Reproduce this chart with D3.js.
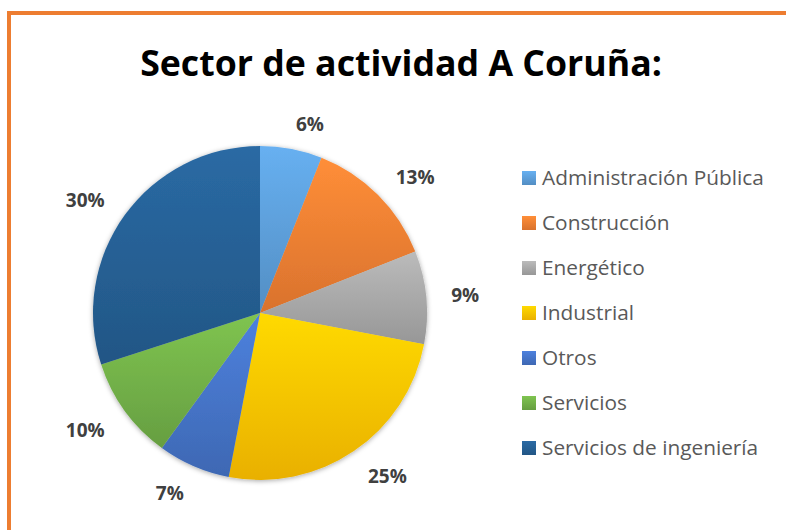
<!DOCTYPE html>
<html>
<head>
<meta charset="utf-8">
<script src="https://cdn.jsdelivr.net/npm/d3@7"></script>
<style>
  body { margin: 0; background: #fff; }
  text { font-family: "Open Sans", "Noto Sans", sans-serif; }
</style>
</head>
<body>
<div id="chart"></div>
<script>
const categories = ["Administración Pública", "Construcción", "Energético", "Industrial", "Otros", "Servicios", "Servicios de ingeniería"];
const values = [6, 13, 9, 25, 7, 10, 30];
const colors = ["#5B9BD5", "#ED7D31", "#A5A5A5", "#FFC000", "#4472C4", "#70AD47", "#255E91"];
const title = "Sector de actividad A Coruña:";

const width = 786, height = 530;
const cx = 260, cy = 313, radius = 167, labelRadius = 192;

const svg = d3.select("#chart").append("svg")
  .attr("width", width)
  .attr("height", height);

const defs = svg.append("defs");

// gradient per colour, lighter at top, darker at bottom (Excel style)
colors.forEach((c, i) => {
  const g = defs.append("linearGradient")
    .attr("id", "grad" + i)
    .attr("x1", 0).attr("y1", 0).attr("x2", 0).attr("y2", 1);
  g.append("stop").attr("offset", "0%").attr("stop-color", d3.color(c).brighter(0.35));
  g.append("stop").attr("offset", "100%").attr("stop-color", d3.color(c).darker(0.25));
});

const shadow = defs.append("filter").attr("id", "shadow")
  .attr("x", "-10%").attr("y", "-10%").attr("width", "120%").attr("height", "120%");
shadow.append("feDropShadow")
  .attr("dx", 0).attr("dy", 1).attr("stdDeviation", 2.5)
  .attr("flood-color", "#000").attr("flood-opacity", 0.35);

// orange frame (top and left edges visible)
svg.append("line").attr("x1", 9).attr("x2", width).attr("y1", 13).attr("y2", 13)
  .attr("stroke", "#ED7D31").attr("stroke-width", 4);
svg.append("line").attr("x1", 9).attr("x2", 9).attr("y1", 11).attr("y2", height)
  .attr("stroke", "#ED7D31").attr("stroke-width", 4);

// title
const titleText = svg.append("text")
  .attr("x", 401)
  .attr("y", 76)
  .attr("text-anchor", "middle")
  .attr("font-weight", "bold")
  .attr("fill", "#000")
  .attr("font-size", 36)
  .text(title);
// fit width to reference
const tw = titleText.node().getComputedTextLength();
titleText.attr("font-size", 36 * 522 / tw);

const arcs = d3.pie().sort(null).value(d => d)(values);
const arc = d3.arc().innerRadius(0).outerRadius(radius);

const pieG = svg.append("g")
  .attr("transform", `translate(${cx},${cy})`);

pieG.append("g")
  .attr("filter", "url(#shadow)")
  .selectAll("path")
  .data(arcs)
  .join("path")
  .attr("fill", (d, i) => `url(#grad${i})`)
  .attr("d", arc);

// outside end labels
pieG.append("g")
  .attr("font-size", 19)
  .attr("font-weight", "bold")
  .attr("fill", "#404040")
  .selectAll("text")
  .data(arcs)
  .join("text")
  .attr("x", d => {
    const a = (d.startAngle + d.endAngle) / 2;
    return labelRadius * Math.sin(a);
  })
  .attr("y", d => {
    const a = (d.startAngle + d.endAngle) / 2;
    return -labelRadius * Math.cos(a) + 7 + (Math.cos(a) < 0 ? 4 : 0);
  })
  .attr("text-anchor", d => {
    const a = (d.startAngle + d.endAngle) / 2;
    return Math.sin(a) >= 0 ? "start" : "end";
  })
  .text(d => d.data + "%");

// legend
const legend = svg.append("g")
  .attr("transform", "translate(522,178)");

const item = legend.selectAll("g")
  .data(categories)
  .join("g")
  .attr("transform", (d, i) => `translate(0,${i * 45})`);

item.append("rect")
  .attr("x", 0).attr("y", -7)
  .attr("width", 14).attr("height", 14)
  .attr("fill", (d, i) => `url(#grad${i})`);

const legendTexts = item.append("text")
  .attr("x", 20)
  .attr("y", 7)
  .attr("font-size", 20)
  .attr("fill", "#595959")
  .text(d => d);

const lw = legendTexts.nodes()[0].getComputedTextLength();
legendTexts.attr("font-size", 20 * 222 / lw);
</script>
</body>
</html>
